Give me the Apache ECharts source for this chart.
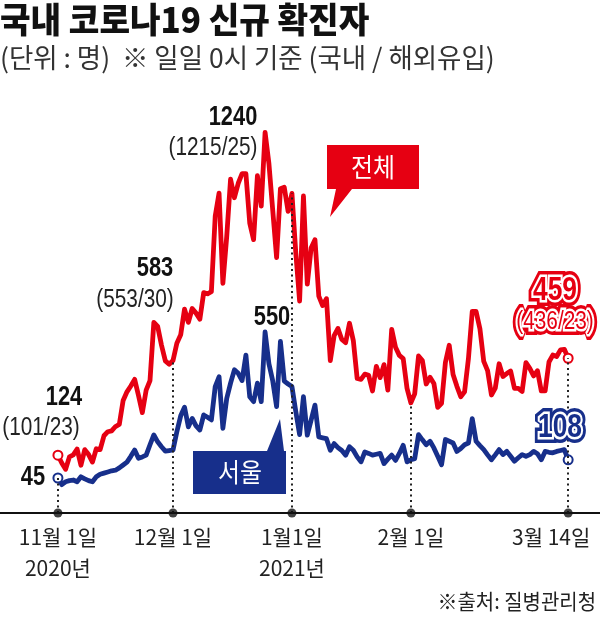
<!DOCTYPE html>
<html><head><meta charset="utf-8">
<script src="https://cdn.jsdelivr.net/npm/echarts@6/dist/echarts.min.js"></script>
<style>html,body{margin:0;padding:0;background:#fff}#c{width:600px;height:617px}</style>
</head><body><div id="c"></div>
<script>
// Day index 0 = 2020-11-01 ... 133 = 2021-03-14
const totalNov = [124,97,75,118,125,145,89,143,126,100,146,143,191,205,208,223,230,313,343,363,386,330,271,349,382,583,569,504,450,438];
const totalDec = [451,511,540,629,583,631,615,594,686,682,689,950,1030,718,880,1078,1014,1064,1097,1097,926,869,1090,985,1240,1132,970,807,1045,1050,967];
const totalJan = [1029,824,657,1020,715,840,869,674,641,665,451,537,562,524,513,580,520,389,386,404,400,346,431,392,437,349,559,497,469,458,355];
const totalFeb = [305,336,467,451,370,393,372,289,303,444,504,403,362,326,343,457,621,621,561,448,416,332,356,440,396,406,415,355];
const totalMar = [355,344,444,424,398,416,346,346,446,470,465,488,490,459];

const seoulNov = [45,22,32,36,38,32,49,42,36,32,49,58,62,66,70,72,80,90,100,120,142,113,118,124,160,194,170,153,138,140];
const seoulDec = [142,205,260,290,222,251,225,211,263,255,246,361,395,217,320,373,419,407,382,470,326,309,373,309,550,440,380,292,517,380,370];
const seoulJan = [361,275,195,326,193,245,297,187,184,181,141,164,150,140,124,153,141,118,101,135,130,124,127,130,95,110,124,106,130,158,101];
const seoulFeb = [108,112,195,177,160,172,149,120,91,178,172,166,137,147,160,166,250,172,157,143,125,108,125,143,126,137,120,103];
const seoulMar = [115,126,120,126,137,129,108,137,134,132,137,140,143,108];

const tickDays = [0, 30, 61, 92, 133];
const tickLabels = ['11월 1일\n2020년', '12월 1일', '1월1일\n2021년', '2월 1일', '3월 14일'];

const titleText = '국내 코로나19 신규 확진자';
const subtitleText = '(단위 : 명)  ※ 일일 0시 기준 (국내 / 해외유입)';
const sourceText = '※출처: 질병관리청';

const total = [].concat(totalNov, totalDec, totalJan, totalFeb, totalMar);
const seoul = [].concat(seoulNov, seoulDec, seoulJan, seoulFeb, seoulMar);
const last = total.length - 1;

const RED = '#e60012';
const BLUE = '#172f8b';
const LAT = '"Liberation Sans", "Noto Sans CJK KR", sans-serif';
const KR = '"Noto Sans CJK KR", sans-serif';
const YMIN = -76;

function txt(text, x, y, font, fill, align, extra, sx) {
  return { type: 'text', x: x, y: y, z: 100, silent: true, scaleX: sx || 1,
    style: Object.assign({ text: text, font: font, fill: fill, textAlign: align || 'center', textVerticalAlign: 'middle' }, extra || {}) };
}
function outlined(text, x, y, font, color, sx) {
  return [
    txt(text, x, y, font, color, 'center', { stroke: color, lineWidth: 12, strokeFirst: true, lineJoin: 'round' }, sx),
    txt(text, x, y, font, color, 'center', { stroke: '#fff', lineWidth: 5, strokeFirst: true, lineJoin: 'round' }, sx)
  ];
}

const chart = echarts.init(document.getElementById('c'), null, { renderer: 'canvas' });
const endSym = function (v, p) { return (p.dataIndex === 0 || p.dataIndex === last) ? 9 : 0; };

chart.setOption({
  animation: false,
  backgroundColor: '#fff',
  grid: { left: 0, right: 0, top: 115, bottom: 104, containLabel: false, outerBoundsMode: 'none' },
  xAxis: {
    type: 'value', min: -15.1, max: 141.3,
    axisLine: { show: true, onZero: false, lineStyle: { color: '#111', width: 2 } },
    axisTick: { show: false },
    splitLine: { show: false },
    axisLabel: {
      customValues: tickDays,
      margin: 9,
      fontFamily: KR, fontSize: 21, lineHeight: 31, color: '#222',
      formatter: function (v) {
        const k = tickDays.indexOf(v);
        if (k < 0) return '';
        if (k === tickDays.length - 1) return '{r|' + tickLabels[k] + '}';
        return tickLabels[k];
      },
      rich: { r: { fontFamily: KR, fontSize: 21, lineHeight: 31, color: '#222', padding: [0, 34, 0, 0] } }
    }
  },
  yAxis: { type: 'value', min: YMIN, max: 1300, show: false },
  series: [
    {
      type: 'line', data: [], z: 1, silent: true,
      markLine: {
        silent: true, symbol: ['none', 'none'], label: { show: false },
        lineStyle: { color: '#222', type: [2, 3.5], width: 2 },
        data: tickDays.map(function (d, k) {
          return [{ coord: [d, YMIN] }, { coord: [d, k === 0 ? seoul[d] : total[d]] }];
        })
      }
    },
    {
      type: 'line', name: '서울', data: seoul.map(function (v, i) { return [i, v]; }), z: 3,
      lineStyle: { color: BLUE, width: 4.8, join: 'round' },
      symbol: 'circle', symbolSize: endSym, showSymbol: true, showAllSymbol: true,
      itemStyle: { color: '#fff', borderColor: BLUE, borderWidth: 2 }
    },
    {
      type: 'line', name: '전체', data: total.map(function (v, i) { return [i, v]; }), z: 4,
      lineStyle: { color: RED, width: 4.8, join: 'round' },
      symbol: 'circle', symbolSize: endSym, showSymbol: true, showAllSymbol: true,
      itemStyle: { color: '#fff', borderColor: RED, borderWidth: 2 }
    },
    {
      type: 'scatter', data: tickDays.map(function (d) { return [d, YMIN]; }), z: 6,
      symbolSize: 9, clip: false, itemStyle: { color: '#111' }, silent: true
    }
  ],
  graphic: [].concat(
    [
      txt(titleText, 0, 20, '900 35px ' + KR, '#111', 'left', null, 0.95),
      txt(subtitleText, 0, 58, '27px ' + KR, '#333', 'left', null, 0.98),
      txt(sourceText, 596, 601, '21px ' + KR, '#222', 'right', null, 0.95),
      txt('124', 64, 397, 'bold 28px ' + LAT, '#111', 'center', null, 0.78),
      txt('(101/23)', 41, 428, '26px ' + LAT, '#222', 'center', null, 0.8),
      txt('45', 33, 477, 'bold 28px ' + LAT, '#111', 'center', null, 0.78),
      txt('583', 155, 268, 'bold 28px ' + LAT, '#111', 'center', null, 0.78),
      txt('(553/30)', 135, 300, '26px ' + LAT, '#222', 'center', null, 0.8),
      txt('1240', 233, 117, 'bold 28px ' + LAT, '#111', 'center', null, 0.78),
      txt('(1215/25)', 213, 148, '26px ' + LAT, '#222', 'center', null, 0.8),
      txt('550', 272, 317, 'bold 28px ' + LAT, '#111', 'center', null, 0.78),
      { type: 'polygon', z: 90, silent: true,
        shape: { points: [[327,145],[419,145],[419,189],[352,189],[330,217],[336,189],[327,189]] },
        style: { fill: RED } },
      txt('전체', 373, 167, '26px ' + KR, '#fff', 'center', null, 0.92),
      { type: 'polygon', z: 90, silent: true,
        shape: { points: [[193,451],[267,451],[280,419],[284,451],[286,451],[286,494],[193,494]] },
        style: { fill: BLUE } },
      txt('서울', 240, 472, '26px ' + KR, '#fff', 'center', null, 0.92)
    ],
    outlined('459', 555, 291, 'bold 33px ' + LAT, RED, 0.8),
    outlined('(436/23)', 555, 322, '26px ' + LAT, RED, 0.8),
    outlined('108', 560, 428, 'bold 33px ' + LAT, BLUE, 0.8)
  )
});
</script>
</body></html>
